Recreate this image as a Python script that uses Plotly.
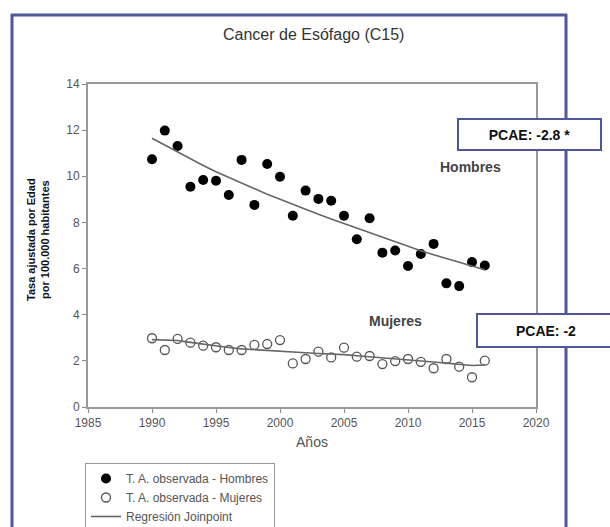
import plotly.graph_objects as go

years = list(range(1990, 2017))
hombres_obs = [10.74, 11.98, 11.31, 9.55, 9.84, 9.81, 9.19, 10.71, 8.76, 10.53,
               9.98, 8.29, 9.38, 9.02, 8.94, 8.29, 7.27, 8.18, 6.69, 6.78,
               6.11, 6.63, 7.07, 5.36, 5.24, 6.28, 6.13]
mujeres_obs = [2.98, 2.47, 2.95, 2.79, 2.66, 2.59, 2.47, 2.47, 2.69, 2.73,
               2.90, 1.89, 2.08, 2.40, 2.15, 2.57, 2.18, 2.21, 1.86, 1.99,
               2.08, 1.96, 1.68, 2.08, 1.75, 1.29, 2.01]
hombres_fit = [11.65, 11.35, 11.05, 10.75, 10.47, 10.2, 9.95, 9.7, 9.45, 9.22,
               9.0, 8.78, 8.55, 8.35, 8.15, 7.95, 7.75, 7.55, 7.35, 7.15,
               6.95, 6.77, 6.6, 6.43, 6.27, 6.1, 5.95]
mujeres_fit = [2.92, 2.90, 2.88, 2.80, 2.72, 2.65, 2.58, 2.52, 2.48, 2.45,
               2.42, 2.38, 2.35, 2.32, 2.30, 2.27, 2.22, 2.18, 2.13, 2.09,
               2.05, 2.00, 1.95, 1.90, 1.85, 1.80, 1.82]

x_ticks = [1985, 1990, 1995, 2000, 2005, 2010, 2015, 2020]
y_ticks = [0, 2, 4, 6, 8, 10, 12, 14]

W, H = 610, 527
L, R, T, B = 88, 536, 84, 407


def px(x):
    return (x - L) / (R - L)


def py(y):
    return (B - y) / (B - T)


FONT = "Liberation Sans, Arial, sans-serif"

fig = go.Figure()
fig.add_trace(go.Scatter(
    x=years, y=hombres_obs, mode="markers", name="T. A. observada - Hombres",
    marker=dict(symbol="circle", size=10, color="black"),
))
fig.add_trace(go.Scatter(
    x=years, y=mujeres_obs, mode="markers", name="T. A. observada - Mujeres",
    marker=dict(symbol="circle-open", size=9, color="#555", line=dict(width=1.3, color="#555")),
))
fig.add_trace(go.Scatter(
    x=years, y=hombres_fit, mode="lines", name="Regresión Joinpoint",
    line=dict(color="#666", width=1.6),
))
fig.add_trace(go.Scatter(
    x=years, y=mujeres_fit, mode="lines", name="Regresión Joinpoint",
    line=dict(color="#666", width=1.6), showlegend=False,
))

blue = "#4d5799"
shapes = [
    dict(type="line", xref="paper", yref="paper", x0=px(12), x1=px(12), y0=py(14), y1=py(540),
         line=dict(color=blue, width=3)),
    dict(type="line", xref="paper", yref="paper", x0=px(11), x1=px(567), y0=py(15), y1=py(15),
         line=dict(color=blue, width=3)),
    dict(type="line", xref="paper", yref="paper", x0=px(566), x1=px(566), y0=py(14), y1=py(540),
         line=dict(color=blue, width=3)),
]

C = dict(xref="paper", yref="paper", showarrow=False, xanchor="center", yanchor="middle")
annotations = [
    dict(text="Cancer de Esófago (C15)", x=px(313), y=py(34),
         font=dict(size=16, color="#333", family=FONT), **C),
    dict(text="<b>Tasa ajustada por Edad<br>por 100.000 habitantes</b>", x=px(38), y=py(240),
         textangle=-90, font=dict(size=11, color="#111", family=FONT), **C),
    dict(text="<b>Hombres</b>", x=px(470), y=py(167),
         font=dict(size=14, color="#444", family=FONT), **C),
    dict(text="<b>Mujeres</b>", x=px(395), y=py(321),
         font=dict(size=14, color="#444", family=FONT), **C),
    dict(text="<b>PCAE: -2.8 *</b>", x=px(529.5), y=py(134.5),
         width=139, height=27, bgcolor="white", bordercolor=blue,
         borderwidth=2, borderpad=1, font=dict(size=14, color="#111", family=FONT), **C),
    dict(text="<b>PCAE: -2</b>", x=px(546), y=py(330.5),
         width=134, height=29, bgcolor="white", bordercolor=blue,
         borderwidth=2, borderpad=1, font=dict(size=14, color="#111", family=FONT), **C),
]

fig.update_layout(
    width=W, height=H,
    margin=dict(l=L, r=W - R, t=T, b=H - B, autoexpand=False),
    paper_bgcolor="white", plot_bgcolor="white",
    font=dict(family=FONT, color="#555", size=11),
    showlegend=True,
    legend=dict(x=px(85), y=py(463), xanchor="left", yanchor="top",
                bordercolor="#999", borderwidth=1, bgcolor="white",
                font=dict(size=12, color="#555", family=FONT),
                tracegroupgap=0, itemwidth=30),
    shapes=shapes,
    annotations=annotations,
)
fig.update_xaxes(range=[1985, 2020], tickvals=x_ticks, ticks="outside", ticklen=4,
                 tickcolor="#888", showgrid=False, zeroline=False,
                 showline=True, linecolor="#999", linewidth=2, mirror=True,
                 tickfont=dict(size=12, color="#555"),
                 title=dict(text="Años", font=dict(size=14, color="#555"), standoff=8))
fig.update_yaxes(range=[0, 14], tickvals=y_ticks, ticks="outside", ticklen=4,
                 tickcolor="#888", showgrid=False, zeroline=False,
                 showline=True, linecolor="#999", linewidth=2, mirror=True,
                 tickfont=dict(size=12, color="#555"))

fig.write_html("out.html", config={"displayModeBar": False},
               post_script="document.body.style.margin='0';")
